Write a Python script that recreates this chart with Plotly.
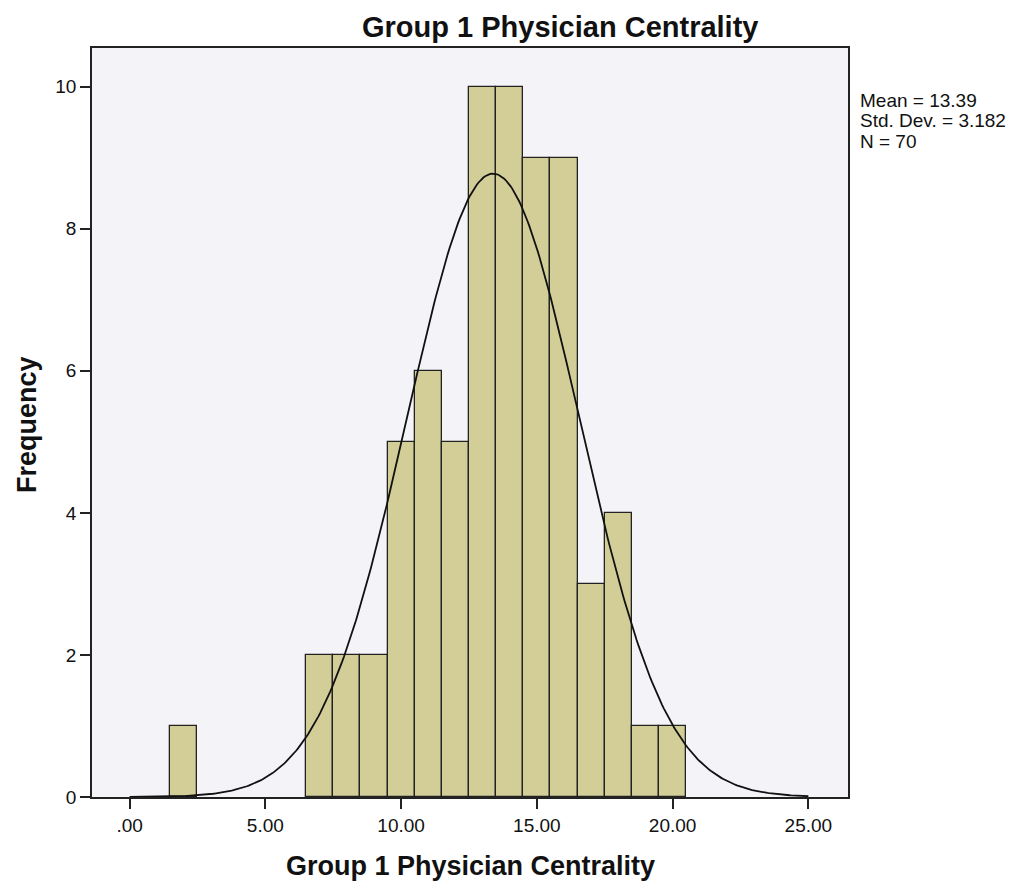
import numpy as np
import plotly.graph_objects as go

# Data
bin_centers = [2, 7, 8, 9, 10, 11, 12, 13, 14, 15, 16, 17, 18, 19, 20]
frequencies = [1, 2, 2, 2, 5, 6, 5, 10, 10, 9, 9, 3, 4, 1, 1]
bin_width = 1.0
mean_val = 13.39
std_val = 3.182
n_val = 70
x_tick_vals = [0, 5, 10, 15, 20, 25]
x_tick_text = [".00", "5.00", "10.00", "15.00", "20.00", "25.00"]
y_tick_vals = [0, 2, 4, 6, 8, 10]
title_text = "Group 1 Physician Centrality"
x_title = "Group 1 Physician Centrality"
y_title = "Frequency"
stats_lines = [f"Mean = {mean_val:.2f}", f"Std. Dev. = {std_val:.3f}", f"N = {n_val}"]

# Normal curve fitted from the stated mean / std dev
xc = np.linspace(0, 25, 400)
yc = n_val * bin_width / (std_val * np.sqrt(2 * np.pi)) * np.exp(-0.5 * ((xc - mean_val) / std_val) ** 2)

font_family = "Liberation Sans, Arial, sans-serif"

# plot area in page pixels (page has 8px body margin)
PL, PR, PT, PB = 92, 848, 48, 797
def px(x):
    return (x - PL) / (PR - PL)
def py(y):
    return (PB - y) / (PB - PT)

fig = go.Figure()
fig.add_trace(go.Bar(
    x=bin_centers, y=frequencies, width=[bin_width] * len(bin_centers),
    marker=dict(color="#D3CE98", line=dict(color="#222222", width=1.3)),
    hoverinfo="x+y", showlegend=False,
))
fig.add_trace(go.Scatter(
    x=xc, y=yc, mode="lines", line=dict(color="#111111", width=1.8),
    showlegend=False, hoverinfo="skip",
))

annotations = [
    dict(text="<b>" + title_text + "</b>", xref="paper", yref="paper",
         x=px(560), y=py(27), xanchor="center", yanchor="middle",
         showarrow=False, font=dict(size=29)),
    dict(text="<b>" + x_title + "</b>", xref="paper", yref="paper",
         x=px(471), y=py(866), xanchor="center", yanchor="middle",
         showarrow=False, font=dict(size=27)),
    dict(text="<b>" + y_title + "</b>", xref="paper", yref="paper",
         x=px(27), y=py(425), xanchor="center", yanchor="middle", textangle=-90,
         showarrow=False, font=dict(size=27)),
]
for i, line in enumerate(stats_lines):
    annotations.append(dict(text=line, xref="paper", yref="paper",
                            x=px(858), y=py(101 + 20 * i), xanchor="left", yanchor="middle",
                            align="left", showarrow=False, font=dict(size=19)))

fig.update_layout(
    width=1018, height=884,
    margin=dict(l=PL - 8, r=1018 + 8 - PR, t=PT - 8, b=884 + 8 - PB),
    paper_bgcolor="white",
    plot_bgcolor="#F4F3F7",
    font=dict(family=font_family, color="#111111", size=19),
    bargap=0,
    xaxis=dict(
        range=[-1.385, 26.46], tickvals=x_tick_vals, ticktext=x_tick_text,
        ticks="outside", ticklen=10, tickwidth=1.6, tickcolor="#222222",
        showgrid=False, zeroline=False, showline=True, linecolor="#222222",
        linewidth=1.6, mirror=True, tickfont=dict(size=19), automargin=False,
    ),
    yaxis=dict(
        range=[0, 10.545], tickvals=y_tick_vals,
        ticks="outside", ticklen=10, tickwidth=1.6, tickcolor="#222222",
        showgrid=False, zeroline=False, showline=True, linecolor="#222222",
        linewidth=1.6, mirror=True, tickfont=dict(size=19), automargin=False,
    ),
    annotations=annotations,
)

fig.write_html("out.html")
